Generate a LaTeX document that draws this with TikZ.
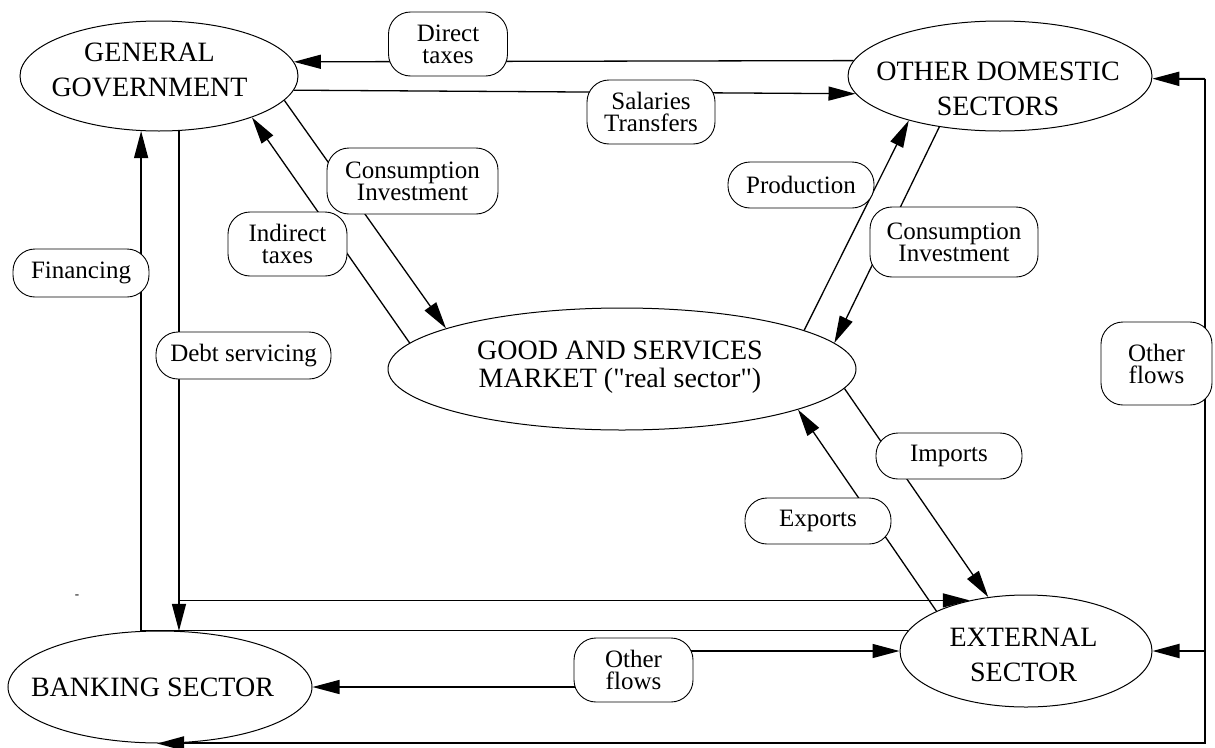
\documentclass[tikz,border=0pt]{standalone}
\usepackage{fontspec}
\setmainfont{Liberation Serif}[Ligatures=TeXOff]
\usetikzlibrary{arrows.meta,backgrounds,shapes.geometric}
\begin{document}
\begin{tikzpicture}[x=1pt,y=-1pt,
  ell/.style={draw, ellipse, line width=1pt, inner sep=0pt},
  etext/.style={align=center, font=\fontsize{28}{35}\selectfont, inner sep=0pt},
  lbl/.style={draw, fill=white, rounded corners=22pt, line width=0.9pt, align=center,
              font=\fontsize{25}{22}\selectfont, inner sep=0pt},
  flow/.style={line width=1.3pt, -{Triangle[length=27pt,width=14pt]}},
  framearrow/.style={line width=2pt, -{Triangle[length=27pt,width=14pt]}}
]
\useasboundingbox (0,0) rectangle (1215,747);

% sectors
\node[ell, minimum width=278pt, minimum height=110pt] (gg) at (159,76) {};
\node[ell, minimum width=304pt, minimum height=110pt] (ods) at (1000,76) {};
\node[ell, minimum width=468pt, minimum height=122pt] (gsm) at (622,369) {};
\node[ell, minimum width=304pt, minimum height=112pt] (bank) at (160,687) {};
\node[ell, minimum width=252pt, minimum height=112pt] (ext) at (1026,651) {};

\node[etext] (ggT) at (149.5,70) {GENERAL\\GOVERNMENT};
\node[etext] (odsT) at (998,88.5) {OTHER DOMESTIC\\SECTORS};
\node[etext, font=\fontsize{28}{28}\selectfont] (gsmT) at (620,367) {GOOD AND SERVICES\\MARKET ("real sector")};
\node[etext] (bankT) at (152.5,687.5) {BANKING SECTOR};
\node[etext] (extT) at (1023.5,655) {EXTERNAL\\SECTOR};

% flow labels
\node[lbl, minimum width=119pt, minimum height=64pt] (dtx) at (448,44) {Direct\\taxes};
\node[lbl, minimum width=128pt, minimum height=64pt] (sal) at (651,112) {Salaries\\Transfers};
\node[lbl, minimum width=171pt, minimum height=66pt] (ciL) at (412.5,181) {Consumption\\Investment};
\node[lbl, minimum width=119pt, minimum height=64pt] (itx) at (287.5,244) {Indirect\\taxes};
\node[lbl, minimum width=136pt, minimum height=48pt] (fin) at (81,273) {Financing};
\node[lbl, minimum width=175pt, minimum height=47pt] (dbt) at (243.5,355.5) {Debt servicing};
\node[lbl, minimum width=146pt, minimum height=46pt] (prd) at (801,185) {Production};
\node[lbl, minimum width=168pt, minimum height=70pt] (ciR) at (954,242) {Consumption\\Investment};
\node[lbl, minimum width=146pt, minimum height=46pt] (imp) at (949,456) {Imports};
\node[lbl, minimum width=146pt, minimum height=46pt] (exp) at (818,521) {Exports};
\node[lbl, minimum width=119pt, minimum height=64pt] (ofl) at (633.5,670) {Other\\flows};
\node[lbl, minimum width=111pt, minimum height=83pt] (ofr) at (1156.5,363.5) {Other\\flows};

\node[inner sep=0pt, font=\fontsize{13}{13}\selectfont] (dash) at (77,597) {-};

\coordinate (rtop) at (1205,79);

\begin{scope}[on background layer]
  \draw[flow] (ods.174.14) -- (gg.6.40);
  \draw[flow] (gg.-6.86) -- (ods.-173.72);
  \draw[flow] (gg.-11.48) -- (gsm.167.4);
  \draw[flow] (gsm.173.0) -- (gg.-24.66);
  \draw[flow] (ext.170.36) -| (gg.-108.27);
  \coordinate (dsj) at (gg.-70.78 |- ext.138.6);
  \draw[flow] (gg.-70.78) |- (ext.138.6);
  \draw[flow] (dsj) -- (dsj |- bank.72.06);
  \draw[flow] (gsm.12.6) -- (ods.-154.83);
  \draw[flow] (ods.-140.5) -- (gsm.7.75);
  \draw[flow] (gsm.-5.89) -- (ext.125.84);
  \draw[flow] (ext.156.34) -- (gsm.-13.5);
  \draw[flow] (ofl.center |- ext.180.5) -- (ext.180.5);
  \draw[flow] (ofl.center |- bank.-0.75) -- (bank.-0.75);
  \draw[framearrow] (rtop) |- (bank.-93);
  \draw[framearrow] (rtop) -- (ods.-1.13);
  \draw[framearrow] (rtop |- ext.-0.45) -- (ext.-0.45);
\end{scope}
\end{tikzpicture}
\end{document}
